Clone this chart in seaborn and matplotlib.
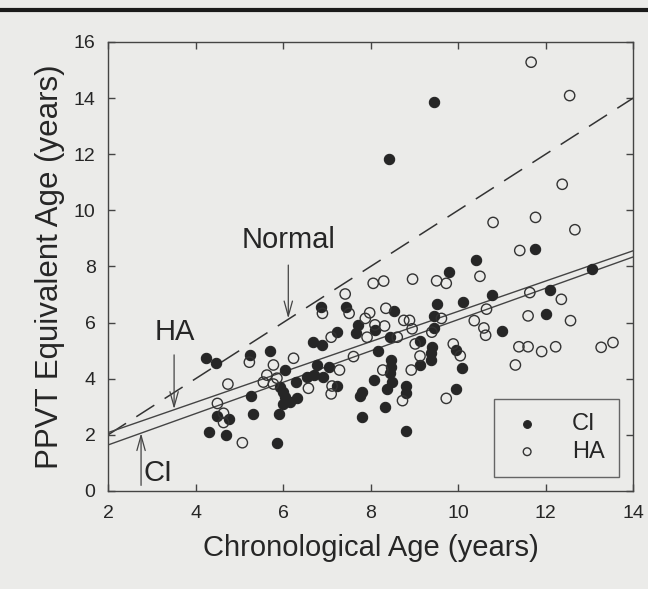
import numpy as np
import pandas as pd
import matplotlib
matplotlib.use("Agg")
import matplotlib.pyplot as plt
from matplotlib.lines import Line2D
import seaborn as sns

# ---- data ----
ci_x = [4.24, 4.46, 5.25, 5.71, 5.27, 4.49, 4.77, 4.30, 4.69, 5.31, 5.86, 5.90, 5.94,
        6.87, 7.45, 8.53, 9.51, 9.45, 7.71, 7.66, 7.23, 8.11, 6.68, 6.90, 8.45, 8.17,
        9.12, 9.40, 9.38, 9.37, 9.14, 8.47, 8.47, 8.45, 8.49, 8.38, 8.82, 8.82, 8.07,
        7.80, 7.75, 7.81, 8.33, 8.82, 6.78, 7.04, 7.23, 6.91, 6.70, 6.55, 6.30, 6.05,
        6.01, 6.05, 6.32, 6.16, 6.01, 10.41, 9.80, 10.78, 10.11, 9.45, 9.96, 10.09,
        9.96, 11.76, 13.07, 12.11, 12.00, 11.01, 9.44, 8.42]
ci_y = [4.75, 4.57, 4.84, 4.99, 3.40, 2.68, 2.57, 2.09, 2.00, 2.74, 1.70, 2.76, 3.72,
        6.57, 6.57, 6.41, 6.65, 6.24, 5.90, 5.64, 5.67, 5.74, 5.31, 5.21, 5.48, 5.00,
        5.33, 5.14, 4.91, 4.67, 4.49, 4.67, 4.43, 4.20, 3.90, 3.62, 3.75, 3.50, 3.96,
        3.54, 3.39, 2.65, 2.98, 2.14, 4.49, 4.43, 3.74, 4.05, 4.13, 4.07, 3.90, 4.31,
        3.54, 3.36, 3.30, 3.18, 3.10, 8.23, 7.82, 7.00, 6.75, 5.80, 5.02, 4.40,
        3.63, 8.63, 7.90, 7.16, 6.31, 5.71, 13.85, 11.84]

ha_x = [5.23, 5.78, 4.74, 4.50, 4.64, 4.64, 5.07, 5.55, 5.63, 5.78, 5.86, 8.06, 8.30,
        8.96, 9.51, 9.73, 7.42, 6.90, 7.51, 7.98, 7.88, 8.35, 8.10, 8.32, 8.76, 8.89,
        8.95, 7.92, 8.61, 9.02, 9.40, 7.10, 7.61, 6.24, 7.29, 6.58, 7.12, 7.10, 8.28,
        9.13, 8.93, 8.73, 9.73, 10.50, 9.62, 10.65, 10.37, 10.59, 10.63, 9.89, 10.05,
        10.80, 11.77, 12.67, 11.41, 11.64, 12.36, 11.60, 12.57, 11.39, 11.60, 11.91,
        12.23, 11.31, 13.27, 13.54, 11.67, 12.55, 12.38]
ha_y = [4.59, 4.49, 3.81, 3.12, 2.77, 2.44, 1.72, 3.88, 4.13, 3.81, 4.02, 7.40, 7.48,
        7.55, 7.49, 7.40, 7.02, 6.33, 6.33, 6.35, 6.15, 6.51, 5.92, 5.88, 6.08, 6.08,
        5.78, 5.48, 5.48, 5.24, 5.66, 5.48, 4.79, 4.73, 4.31, 3.66, 3.74, 3.46, 4.31,
        4.81, 4.31, 3.22, 3.30, 7.65, 6.15, 6.48, 6.07, 5.81, 5.55, 5.24, 4.82,
        9.57, 9.75, 9.31, 8.57, 7.07, 6.83, 6.24, 6.07, 5.14, 5.14, 4.97,
        5.14, 4.49, 5.12, 5.29, 15.28, 14.09, 10.93]

# reference / fitted lines (end points)
line_x = [2, 14]
normal_y = [2, 14]
ha_fit_y = [2.08, 8.56]
ci_fit_y = [1.64, 8.34]

x_ticks = [2, 4, 6, 8, 10, 12, 14]
y_ticks = [0, 2, 4, 6, 8, 10, 12, 14, 16]

# ---- styling ----
sns.set_theme(style="ticks")
plt.rcParams['font.family'] = ['Liberation Sans', 'DejaVu Sans']
bg = '#ebebe9'
ink = '#262626'

fig = plt.figure(figsize=(6.48, 5.89), dpi=100, facecolor=bg)
ax = fig.add_axes([0.1667, 0.1664, 0.8103, 0.7623])
ax.set_facecolor(bg)

ci_df = pd.DataFrame({'x': ci_x, 'y': ci_y})
ha_df = pd.DataFrame({'x': ha_x, 'y': ha_y})
lines_df = pd.DataFrame({'x': line_x, 'normal': normal_y, 'ha': ha_fit_y, 'ci': ci_fit_y})

sns.lineplot(data=lines_df, x='x', y='normal', ax=ax, color='#333333', lw=1.1,
             dashes=False, linestyle=(0, (14, 8)), zorder=2)
sns.lineplot(data=lines_df, x='x', y='ha', ax=ax, color='#444444', lw=1.0, zorder=2)
sns.lineplot(data=lines_df, x='x', y='ci', ax=ax, color='#444444', lw=1.0, zorder=2)

sns.scatterplot(data=ci_df, x='x', y='y', ax=ax, s=55, color='#262626',
                edgecolor='#262626', linewidth=0.8, label='CI', zorder=3)
sns.scatterplot(data=ha_df, x='x', y='y', ax=ax, s=55, facecolor='none',
                edgecolor='#333333', linewidth=1.0, label='HA', zorder=3)

ax.set_xlim(2, 14)
ax.set_ylim(0, 16)
ax.set_xticks(x_ticks)
ax.set_yticks(y_ticks)
ax.tick_params(direction='in', length=5, width=1, color='#444444',
               top=True, right=True, labelsize=14, labelcolor=ink)
ax.tick_params(axis='x', pad=10)
ax.tick_params(axis='y', pad=9)
for s in ax.spines.values():
    s.set_color('#444444')
    s.set_linewidth(1.0)

ax.set_xlabel('Chronological Age (years)', fontsize=21, color=ink, labelpad=9)
ax.set_ylabel('PPVT Equivalent Age (years)', fontsize=22.5, color=ink, labelpad=6)

arrow = dict(arrowstyle='->,head_length=0.9,head_width=0.25', color='#444444', lw=0.9,
             shrinkA=0, shrinkB=0)
ax.annotate('', xy=(6.12, 6.15), xytext=(6.12, 8.05), arrowprops=arrow)
ax.text(6.12, 8.94, 'Normal', ha='center', va='center', fontsize=21, color=ink)
ax.annotate('', xy=(3.51, 2.92), xytext=(3.51, 4.85), arrowprops=arrow)
ax.text(3.53, 5.67, 'HA', ha='center', va='center', fontsize=21, color=ink)
ax.annotate('', xy=(2.755, 2.06), xytext=(2.755, 0.2), arrowprops=arrow)
ax.text(3.15, 0.64, 'CI', ha='center', va='center', fontsize=21, color=ink)

leg = ax.legend(loc='lower right', bbox_to_anchor=(0.973, 0.031), borderaxespad=0,
                frameon=True, fancybox=False, fontsize=17, handletextpad=1.1,
                borderpad=0.6, labelspacing=0.25, markerscale=0.75, handlelength=1.6)
leg.get_frame().set_edgecolor('#444444')
leg.get_frame().set_facecolor(bg)
leg.get_frame().set_linewidth(1.0)
for t in leg.get_texts():
    t.set_color(ink)

fig.add_artist(Line2D([0, 1], [0.983, 0.983], transform=fig.transFigure,
                      color='#1a1a1a', lw=3))

fig.savefig('out.png', dpi=100, facecolor=bg)
